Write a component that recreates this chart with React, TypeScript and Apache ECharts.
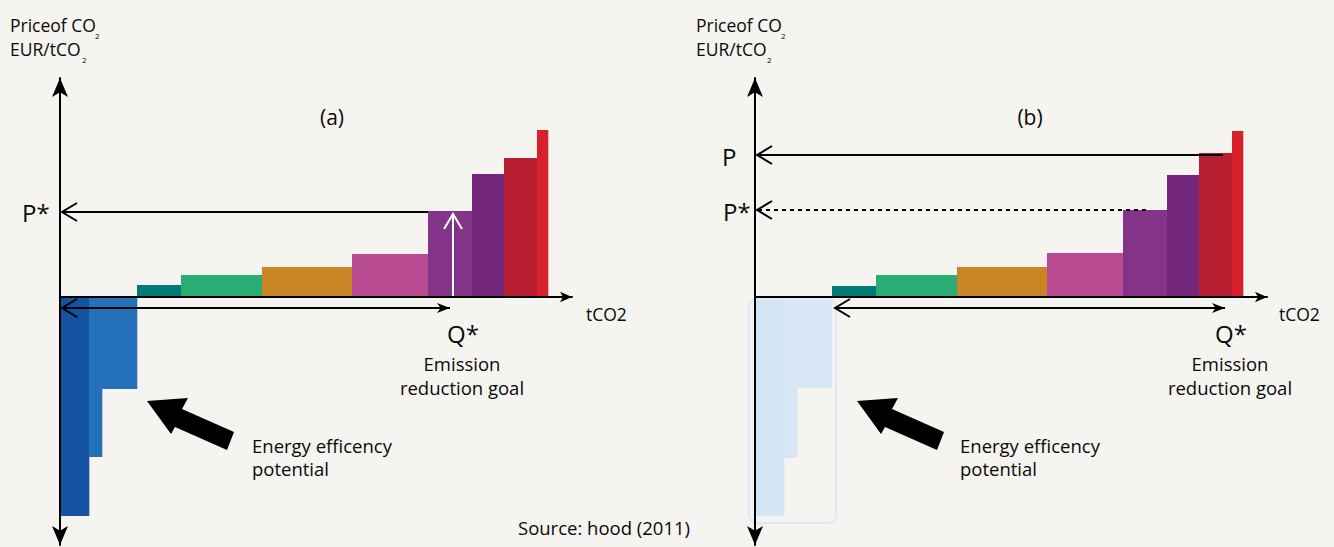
import React, { useEffect, useRef } from 'react';
import * as echarts from 'echarts';

const BG = '#f5f4f0';
const FONT = '"Open Sans", sans-serif';

// abatement options: widths (tCO2) and marginal cost (EUR/tCO2)
const stepWidths = [29, 13, 35, 44, 81, 90, 76, 44, 32, 33, 11];
const costA = [-219, -160, -92, 12, 22, 30, 43, 86, 123, 139, 167];
const costB = [-219, -161, -91, 11, 22, 30, 44, 87, 122, 144, 166];
const colorsA = ['#1353a1', '#2470b9', '#2470b9', '#007b77', '#2aad72', '#c98523', '#b94b93', '#833388', '#72277c', '#b82031', '#d81f2a'];
const colorsB = ['#d3e5f3', '#d7e7f5', '#d7e7f5', '#007b77', '#2aad72', '#c98523', '#b94b93', '#833388', '#72277c', '#b82031', '#d81f2a'];

// annotation values
const priceStarA = 85;
const priceStarB = 87;
const priceB = 142;
const quantityStarA = 393;
const qArrowEndA = 390;
const qArrowStartB = 80;
const qArrowEndB = 470;
const pLineEndB = 468;
const pStarLineEndB = 391;
const qArrowLevel = -11;

const X_MAX = 512;
const Y_MIN = -248;
const Y_MAX = 219;

function edges(widths: number[]) {
  const e = [0];
  widths.forEach((w) => e.push(e[e.length - 1] + w));
  return e;
}

type Seg = { from: number[]; to: number[]; start?: string; end?: string; dash?: boolean; color?: string };

function barSeries(gridIndex: number, costs: number[], colors: string[]) {
  const e = edges(stepWidths);
  const data = costs.map((c, i) => [e[i], e[i + 1], c]);
  return {
    type: 'custom',
    xAxisIndex: gridIndex,
    yAxisIndex: gridIndex,
    z: 2,
    encode: { x: [0, 1], y: 2 },
    data,
    renderItem: (params: any, api: any) => {
      const p0 = api.coord([api.value(0), 0]);
      const p1 = api.coord([api.value(1), api.value(2)]);
      return {
        type: 'rect',
        shape: {
          x: p0[0],
          y: Math.min(p0[1], p1[1]),
          width: p1[0] - p0[0] + 0.3,
          height: Math.abs(p1[1] - p0[1]),
        },
        style: { fill: colors[params.dataIndex] },
      };
    },
  };
}

function head(kind: string, tip: number[], other: number[], color: string) {
  const dx = tip[0] - other[0];
  const dy = tip[1] - other[1];
  const len = Math.hypot(dx, dy) || 1;
  const ux = dx / len, uy = dy / len;
  const nx = -uy, ny = ux;
  if (kind === 'chevron') {
    const L = 15, H = 9;
    return {
      type: 'polyline',
      shape: {
        points: [
          [tip[0] - ux * L + nx * H, tip[1] - uy * L + ny * H],
          [tip[0], tip[1]],
          [tip[0] - ux * L - nx * H, tip[1] - uy * L - ny * H],
        ],
      },
      style: { stroke: color, lineWidth: 2, fill: null },
    };
  }
  const L = 13, H = 5;
  return {
    type: 'polygon',
    shape: {
      points: [
        [tip[0], tip[1]],
        [tip[0] - ux * L + nx * H, tip[1] - uy * L + ny * H],
        [tip[0] - ux * L * 0.72, tip[1] - uy * L * 0.72],
        [tip[0] - ux * L - nx * H, tip[1] - uy * L - ny * H],
      ],
    },
    style: { fill: color },
  };
}

function arrowSeries(gridIndex: number, segs: Seg[], outline?: number[]) {
  const data = segs.map((s) => [s.from[0], s.from[1], s.to[0], s.to[1]]);
  return {
    type: 'custom',
    xAxisIndex: gridIndex,
    yAxisIndex: gridIndex,
    z: 3,
    clip: false,
    encode: { x: [0, 2], y: [1, 3] },
    data,
    renderItem: (params: any, api: any) => {
      const s = segs[params.dataIndex];
      const color = s.color || '#000';
      const p1 = api.coord([api.value(0), api.value(1)]);
      const p2 = api.coord([api.value(2), api.value(3)]);
      const children: any[] = [];
      if (outline && params.dataIndex === 0) {
        const a = api.coord([outline[0], outline[1]]);
        const b = api.coord([outline[2], outline[3]]);
        children.push({
          type: 'rect',
          shape: { x: a[0], y: a[1], width: b[0] - a[0], height: b[1] - a[1], r: 8 },
          style: { fill: null, stroke: '#dbe8f5', lineWidth: 2 },
        });
      }
      children.push({
        type: 'line',
        shape: { x1: p1[0], y1: p1[1], x2: p2[0], y2: p2[1] },
        style: { stroke: color, lineWidth: 2, lineDash: s.dash ? [4, 4] : null },
      });
      if (s.end) children.push(head(s.end, p2, p1, color));
      if (s.start) children.push(head(s.start, p1, p2, color));
      return { type: 'group', children };
    },
  };
}

function axes(gridIndex: number) {
  return {
    x: {
      type: 'value', gridIndex, min: 0, max: X_MAX, z: 5,
      axisLine: { onZero: true, symbol: ['none', 'arrow'], symbolSize: [8, 12], lineStyle: { color: '#000', width: 2 } },
      axisTick: { show: false }, axisLabel: { show: false }, splitLine: { show: false },
    },
    y: {
      type: 'value', gridIndex, min: Y_MIN, max: Y_MAX, z: 5,
      axisLine: { onZero: true, symbol: ['arrow', 'arrow'], symbolSize: [12, 19], lineStyle: { color: '#000', width: 2 } },
      axisTick: { show: false }, axisLabel: { show: false }, splitLine: { show: false },
    },
  };
}

function txt(text: string, x: number, y: number, size: number, align = 'left') {
  return {
    type: 'text', x, y, z: 10,
    style: { text, fill: '#0a0a0a', fontSize: size, fontFamily: FONT, align, verticalAlign: 'middle' },
  };
}

function panelTexts(dx: number, dxLow: number, tcoX: number, letter: string, letterX: number, subX1: number, subX2: number) {
  return [
    txt('Priceof CO', 10 + dx, 25, 17.5),
    txt('2', subX1 + dx, 35, 8),
    txt('EUR/tCO', 10 + dx, 49, 17.5),
    txt('2', subX2 + dx, 59, 8),
    txt(letter, letterX, 117, 21, 'center'),
    txt('tCO2', tcoX, 314, 17.5),
    txt('Energy efficency', 252 + dxLow, 445, 18.5),
    txt('potential', 252 + dxLow, 468, 18.5),
  ];
}

function bigArrow(dx: number) {
  const pts = [[147, 401], [188, 398], [182, 409], [234, 432], [227, 450], [175, 427], [171, 434]];
  return { type: 'polygon', z: 10, shape: { points: pts.map((p) => [p[0] + dx, p[1]]) }, style: { fill: '#000' } };
}

export default function App() {
  const ref = useRef<HTMLDivElement>(null);
  useEffect(() => {
    document.body.style.margin = '0';
    if (!ref.current) return;
    const chart = echarts.init(ref.current, undefined, { renderer: 'svg' });
    const e = edges(stepWidths);
    const aA = axes(0);
    const aB = axes(1);
    const segsA: Seg[] = [
      { from: [e[7], priceStarA], to: [2, priceStarA], end: 'chevron' },
      { from: [quantityStarA, 1], to: [quantityStarA, priceStarA - 2], end: 'chevron', color: '#ffffff' },
      { from: [2, qArrowLevel], to: [qArrowEndA, qArrowLevel], start: 'chevron', end: 'filled' },
    ];
    const segsB: Seg[] = [
      { from: [pLineEndB, priceB], to: [2, priceB], end: 'chevron' },
      { from: [pStarLineEndB, priceStarB], to: [2, priceStarB], end: 'chevron', dash: true },
      { from: [qArrowStartB, qArrowLevel], to: [qArrowEndB, qArrowLevel], start: 'chevron', end: 'filled' },
    ];
    chart.setOption({
      animation: false,
      backgroundColor: BG,
      grid: [
        { left: 60, top: 78, width: X_MAX, height: Y_MAX - Y_MIN },
        { left: 755, top: 78, width: X_MAX, height: Y_MAX - Y_MIN },
      ],
      xAxis: [aA.x, aB.x],
      yAxis: [aA.y, aB.y],
      series: [
        barSeries(0, costA, colorsA),
        barSeries(1, costB, colorsB),
        arrowSeries(0, segsA),
        arrowSeries(1, segsB, [-6, -2, 81, -226]),
      ],
      graphic: [
        ...panelTexts(0, 0, 586, '(a)', 332, 95, 82),
        ...panelTexts(686, 708, 1279, '(b)', 1030, 95, 81),
        txt('P*', 22, 212, 24),
        txt('Q*', 463, 333, 24, 'center'),
        txt('Emission', 462, 363, 18.5, 'center'),
        txt('reduction goal', 462, 387, 18.5, 'center'),
        txt('P', 722, 156, 24),
        txt('P*', 723, 211, 24),
        txt('Q*', 1231, 333, 24, 'center'),
        txt('Emission', 1230, 363, 18.5, 'center'),
        txt('reduction goal', 1230, 387, 18.5, 'center'),
        txt('Source: hood (2011)', 518, 527, 18.5),
        bigArrow(0),
        bigArrow(710),
      ],
    });
    return () => chart.dispose();
  }, []);
  return <div ref={ref} style={{ width: 1334, height: 547, background: BG }} />;
}
